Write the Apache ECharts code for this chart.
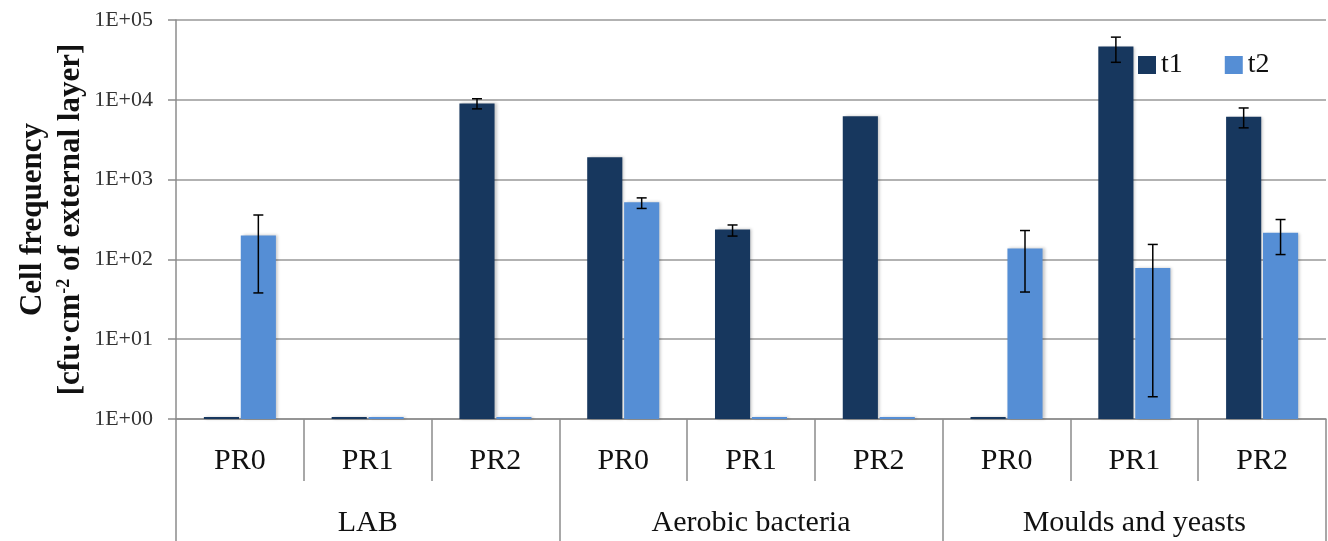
<!DOCTYPE html>
<html>
<head>
    <meta charset="utf-8">
    <script src="https://cdn.jsdelivr.net/npm/echarts@6/dist/echarts.min.js"></script>
    <style>
        html, body { margin: 0; padding: 0; background: #fff; }
    </style>
</head>
<body>
<div id="main" style="width: 1328px; height: 541px"></div>
<script type="text/javascript">
    // data
    var categories = ['PR0', 'PR1', 'PR2', 'PR0', 'PR1', 'PR2', 'PR0', 'PR1', 'PR2'];
    var groups = ['LAB', 'Aerobic bacteria', 'Moulds and yeasts'];
    var t1 = [1, 1, 9000, 1900, 237, 6200, 1, 46500, 6150];
    var t2 = [200, 1, 1, 520, 1, 1, 137, 78, 215];
    var t1Low = [null, null, 7700, null, 196, null, null, 29500, 4450];
    var t1High = [null, null, 10300, null, 270, null, null, 61000, 7900];
    var t2Low = [38, null, null, 435, null, null, 39, 1.9, 115];
    var t2High = [360, null, null, 590, null, null, 230, 154, 316];

    var serif = '"Liberation Serif", "DejaVu Serif", serif';
    var BAR_W = 0.275, BAR_GAP = 0.05;

    function errData(lo, hi) {
        var out = [];
        for (var i = 0; i < lo.length; i++) {
            if (lo[i] != null) out.push([i, lo[i], hi[i]]);
        }
        return out;
    }

    function errRender(side) {
        return function (params, api) {
            var i = api.value(0);
            var band = api.coord([1, 1])[0] - api.coord([0, 1])[0];
            var off = side * band * BAR_W * (1 + BAR_GAP) / 2;
            var x = api.coord([i, 1])[0] + off;
            var yLo = api.coord([i, api.value(1)])[1];
            var yHi = api.coord([i, api.value(2)])[1];
            var st = {stroke: '#000', lineWidth: 1.5};
            return {
                type: 'group',
                children: [
                    {type: 'line', shape: {x1: x, y1: yLo, x2: x, y2: yHi}, style: st},
                    {type: 'line', shape: {x1: x - 5, y1: yLo, x2: x + 5, y2: yLo}, style: st},
                    {type: 'line', shape: {x1: x - 5, y1: yHi, x2: x + 5, y2: yHi}, style: st}
                ]
            };
        };
    }

    var myChart = echarts.init(document.getElementById('main'));
    var barShadow = {shadowColor: 'rgba(0,0,0,0.22)', shadowBlur: 3, shadowOffsetX: 2};
    var option = {
        animation: false,
        textStyle: {fontFamily: serif},
        grid: {left: 176, right: 2, top: 20, bottom: 122, containLabel: false, outerBoundsMode: 'none'},
        legend: {
            data: ['t1', 't2'],
            left: 1133, top: 46,
            icon: 'rect', itemWidth: 18, itemHeight: 18, itemGap: 42,
            textStyle: {fontFamily: serif, fontSize: 28, color: '#111'}
        },
        xAxis: [
            {
                type: 'category', data: categories, position: 'bottom',
                axisLine: {lineStyle: {color: '#8c8c8c', width: 1.5}},
                axisTick: {show: true, interval: 0, length: 62, lineStyle: {color: '#8c8c8c', width: 1.5}},
                axisLabel: {interval: 0, margin: 27, fontSize: 30, color: '#111', fontFamily: serif}
            },
            {
                type: 'category', data: groups, position: 'bottom',
                axisLine: {show: false},
                axisTick: {show: true, interval: 0, length: 122, lineStyle: {color: '#8c8c8c', width: 1.5}},
                axisLabel: {interval: 0, margin: 89, fontSize: 30, color: '#111', fontFamily: serif}
            }
        ],
        yAxis: {
            type: 'log', logBase: 10, min: 1, max: 100000,
            axisLine: {show: true, lineStyle: {color: '#8c8c8c', width: 1.5}},
            axisTick: {show: true, length: 8, lineStyle: {color: '#8c8c8c', width: 1.5}},
            splitLine: {lineStyle: {color: '#999', width: 1.5}},
            axisLabel: {
                margin: 23, fontSize: 22, color: '#333', fontFamily: serif,
                formatter: function (v) {
                    var e = Math.round(Math.log10(v));
                    return '1E+' + (e < 10 ? '0' : '') + e;
                }
            },
            name: '{b|Cell frequency}\n{b|[cfu·cm}{s|-2}{b| of external layer]}',
            nameLocation: 'middle', nameRotate: 90, nameGap: 86, nameMoveOverlap: false,
            nameTextStyle: {
                rich: {
                    b: {fontFamily: serif, fontWeight: 'bold', fontSize: 31, color: '#111', lineHeight: 38},
                    s: {fontFamily: serif, fontWeight: 'bold', fontSize: 18, color: '#111', padding: [0, 0, 14, 0]}
                }
            }
        },
        series: [
            {
                name: 't1', type: 'bar', data: t1, barWidth: (BAR_W * 100) + '%', barGap: (BAR_GAP * 100) + '%',
                barMinHeight: 2,
                itemStyle: Object.assign({color: '#17375e'}, barShadow)
            },
            {
                name: 't2', type: 'bar', data: t2, barWidth: (BAR_W * 100) + '%', barGap: (BAR_GAP * 100) + '%',
                barMinHeight: 2,
                itemStyle: Object.assign({color: '#558ed5'}, barShadow)
            },
            {
                type: 'custom', renderItem: errRender(-1), data: errData(t1Low, t1High),
                encode: {x: 0, y: [1, 2]}, z: 5, silent: true
            },
            {
                type: 'custom', renderItem: errRender(1), data: errData(t2Low, t2High),
                encode: {x: 0, y: [1, 2]}, z: 5, silent: true
            }
        ]
    };
    myChart.setOption(option);
</script>
</body>
</html>
